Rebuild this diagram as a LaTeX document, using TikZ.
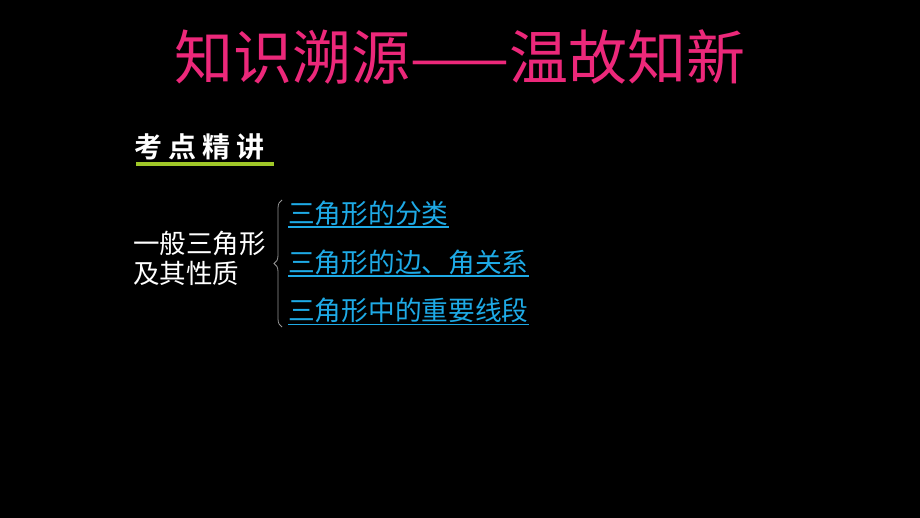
\documentclass[tikz,border=0pt]{standalone}
\usepackage{fontspec}
\newfontfamily\cjk{Noto Sans CJK SC}
\newfontfamily\cjkbold{Noto Sans CJK SC Bold}
\usetikzlibrary{decorations.pathreplacing}
\definecolor{titlepink}{RGB}{236,40,122}
\definecolor{linkblue}{RGB}{30,170,230}
\definecolor{barGreen}{RGB}{160,200,40}
\definecolor{braceGray}{RGB}{150,150,150}
\tikzset{
  titletext/.style={inner sep=0pt, text=titlepink, font=\cjk\fontsize{59}{62}\selectfont},
  badgetext/.style={inner sep=0pt, text=white, font=\cjkbold\fontsize{28}{30}\selectfont},
  plaintext/.style={inner sep=0pt, text=white, align=left, font=\cjk\fontsize{26.5}{30}\selectfont},
  linktext/.style={inner sep=0pt, anchor=west, text=linkblue, font=\cjk\fontsize{26.7}{30}\selectfont},
  linkline/.style={draw=linkblue, line width=1.3pt},
}
\begin{document}
\begin{tikzpicture}[x=1pt,y=-1pt]
\fill[black] (0,0) rectangle (920,518);
\useasboundingbox (0,0) rectangle (920,518);
\node[titletext] (title) at (460,57) {知识溯源——温故知新};
\node[badgetext, anchor=west] (badge) at (134,147) {考\hspace{6pt}点\hspace{6pt}精\hspace{6pt}讲};
\coordinate (barL) at (136,164);
\coordinate (barR) at (274,164);
\draw[barGreen, line width=3.5pt] (barL) -- (barR);
\node[plaintext, anchor=west] (topic) at (133,258) {一般三角形\\及其性质};
\coordinate (braceBot) at (282,327);
\coordinate (braceTop) at (282,200);
\draw[braceGray, line width=0.8pt, decorate, decoration={brace, amplitude=8pt}] (braceBot) -- (braceTop);
\node[linktext] (item1) at (288,213) {三角形的分类};
\node[linktext] (item2) at (288,262) {三角形的边、角关系};
\node[linktext] (item3) at (288,310) {三角形中的重要线段};
\foreach \n in {item1,item2,item3}{
  \draw[linkline] ([yshift=-1.5pt]\n.south west) -- ([yshift=-1.5pt]\n.south east);
}
\end{tikzpicture}
\end{document}
